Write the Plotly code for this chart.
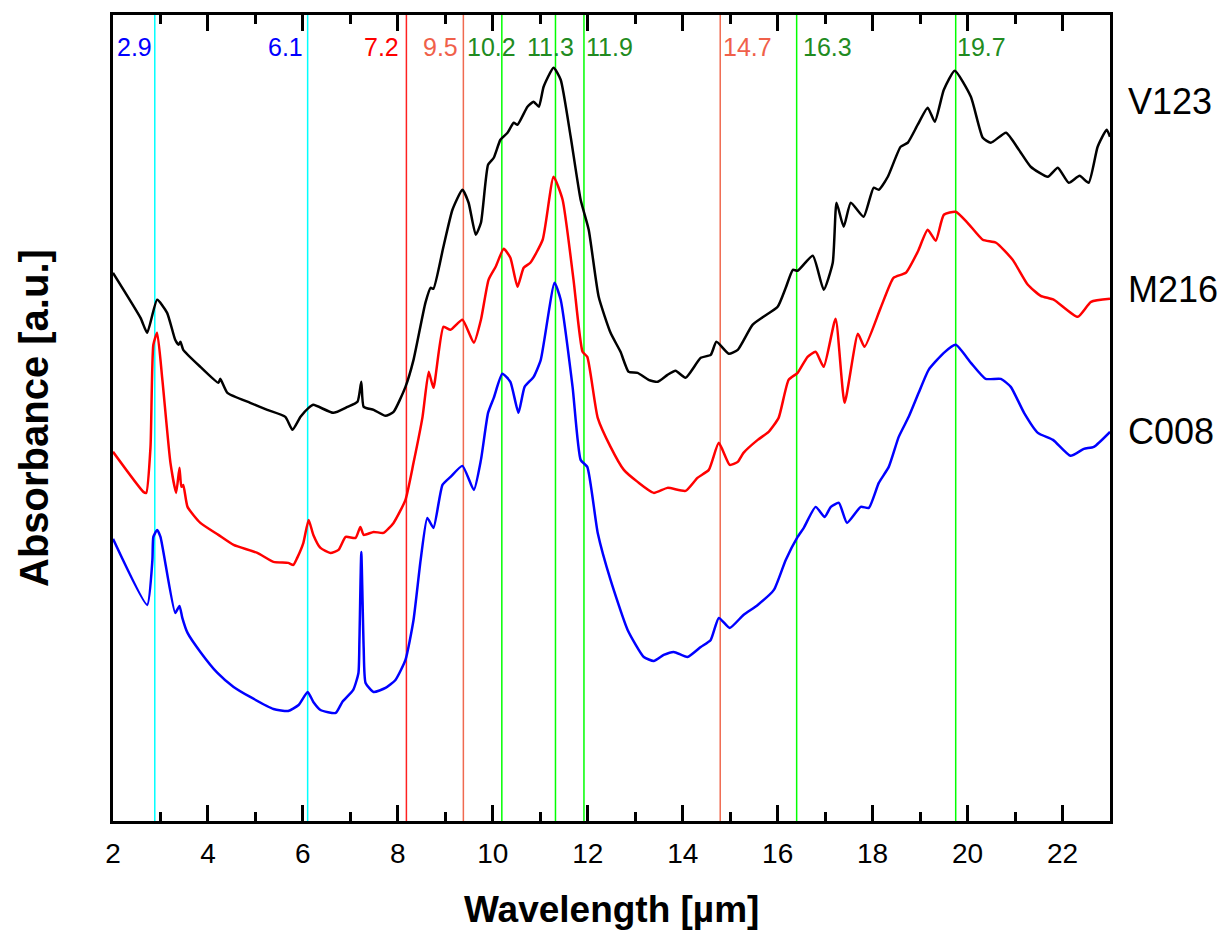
import plotly.graph_objects as go

# ---------------- data ----------------
v123_wl = [2.00, 2.58, 2.72, 2.93, 3.14, 3.31, 3.38, 3.42, 3.48, 3.84, 4.22, 4.26, 4.41, 4.89, 5.25, 5.63, 5.78,
           5.95, 6.12, 6.22, 6.64, 6.94, 7.15, 7.23, 7.28, 7.49, 7.74, 7.91, 8.16, 8.33, 8.58, 8.69, 8.75, 8.96,
           9.15, 9.36, 9.49, 9.64, 9.75, 9.90, 10.02, 10.16, 10.31, 10.44, 10.52, 10.73, 10.86, 10.97, 11.07,
           11.28, 11.43, 11.64, 11.85, 12.02, 12.23, 12.48, 12.69, 12.86, 13.05, 13.28, 13.47, 13.68, 13.85,
           14.06, 14.38, 14.59, 14.71, 14.97, 15.16, 15.47, 15.70, 16.00, 16.17, 16.32, 16.42, 16.74, 16.97,
           17.16, 17.24, 17.39, 17.54, 17.81, 18.02, 18.13, 18.32, 18.59, 18.74, 18.95, 19.16, 19.31, 19.50,
           19.73, 20.07, 20.32, 20.49, 20.81, 21.08, 21.33, 21.69, 21.90, 22.13, 22.36, 22.55, 22.74, 22.93, 23.00]
v123_abs = [5.48, 5.03, 4.88, 5.21, 5.08, 4.81, 4.76, 4.79, 4.71, 4.54, 4.38, 4.42, 4.28, 4.18, 4.11, 4.04, 3.91,
            4.04, 4.13, 4.16, 4.08, 4.14, 4.19, 4.39, 4.14, 4.11, 4.05, 4.09, 4.34, 4.61, 5.18, 5.33, 5.32, 5.74,
            6.11, 6.31, 6.18, 5.86, 5.98, 6.56, 6.63, 6.81, 6.88, 6.98, 6.96, 7.14, 7.19, 7.14, 7.34,
            7.53, 7.41, 6.84, 6.21, 5.91, 5.24, 4.88, 4.69, 4.49, 4.48, 4.41, 4.39, 4.46, 4.50,
            4.43, 4.63, 4.66, 4.79, 4.67, 4.71, 4.96, 5.04, 5.14, 5.33, 5.51, 5.50, 5.65, 5.31,
            5.58, 6.18, 5.94, 6.18, 6.04, 6.33, 6.31, 6.44, 6.74, 6.78, 6.96, 7.13, 6.99, 7.31,
            7.50, 7.24, 6.83, 6.78, 6.88, 6.71, 6.54, 6.44, 6.53, 6.38, 6.45, 6.38, 6.74, 6.91, 6.84]

m216_wl = [2.00, 2.64, 2.70, 2.79, 2.85, 2.93, 3.04, 3.21, 3.33, 3.40, 3.44, 3.48, 3.57, 3.84, 4.22, 4.54, 5.04,
           5.38, 5.69, 5.80, 5.88, 6.01, 6.12, 6.22, 6.37, 6.58, 6.75, 6.90, 7.11, 7.21, 7.28, 7.49, 7.70, 7.91,
           8.16, 8.33, 8.52, 8.65, 8.75, 8.96, 9.11, 9.36, 9.60, 9.75, 9.91, 10.06, 10.23, 10.37, 10.52, 10.65,
           10.79, 11.05, 11.28, 11.47, 11.70, 11.89, 11.99, 12.21, 12.48, 12.76, 13.05, 13.39, 13.68, 14.06,
           14.31, 14.55, 14.76, 14.99, 15.16, 15.28, 15.58, 15.81, 16.02, 16.23, 16.42, 16.63, 16.80, 16.97,
           17.22, 17.41, 17.69, 17.83, 18.17, 18.44, 18.70, 18.95, 19.16, 19.33, 19.50, 19.75, 20.00, 20.32,
           20.60, 20.95, 21.27, 21.54, 21.82, 22.32, 22.60, 23.00]
m216_abs = [3.69, 3.29, 3.28, 3.74, 4.76, 4.88, 4.41, 3.58, 3.28, 3.53, 3.34, 3.36, 3.14, 2.98, 2.86, 2.76, 2.68,
            2.59, 2.58, 2.56, 2.63, 2.78, 3.01, 2.86, 2.73, 2.68, 2.71, 2.84, 2.83, 2.94, 2.86, 2.89, 2.88, 2.98,
            3.21, 3.58, 4.04, 4.49, 4.33, 4.94, 4.91, 5.01, 4.78, 5.01, 5.41, 5.54, 5.72, 5.63, 5.34, 5.53,
            5.58, 5.81, 6.44, 6.21, 5.41, 4.69, 4.64, 4.03, 3.74, 3.51, 3.39, 3.28, 3.33, 3.30,
            3.43, 3.51, 3.78, 3.56, 3.59, 3.68, 3.81, 3.89, 4.03, 4.41, 4.48, 4.64, 4.69, 4.54,
            5.02, 4.18, 4.87, 4.74, 5.13, 5.43, 5.48, 5.69, 5.91, 5.80, 6.06, 6.09, 5.98, 5.81,
            5.78, 5.61, 5.36, 5.25, 5.21, 5.04, 5.19, 5.22]

c008_wl = [2.00, 2.72, 2.83, 2.85, 2.93, 3.00, 3.31, 3.40, 3.46, 3.57, 3.84, 4.20, 4.54, 4.89, 5.38, 5.69, 5.91,
           6.10, 6.22, 6.37, 6.69, 6.83, 7.06, 7.17, 7.19, 7.23, 7.28, 7.32, 7.49, 7.74, 7.95, 8.16, 8.33, 8.48,
           8.62, 8.75, 8.94, 9.11, 9.36, 9.60, 9.75, 9.90, 10.02, 10.20, 10.37, 10.54, 10.67, 10.86, 11.01,
           11.30, 11.43, 11.68, 11.85, 11.99, 12.21, 12.48, 12.84, 13.18, 13.39, 13.60, 13.81, 14.10, 14.38,
           14.59, 14.76, 14.99, 15.28, 15.58, 15.92, 16.17, 16.42, 16.55, 16.80, 16.99, 17.12, 17.29, 17.46,
           17.75, 17.92, 18.13, 18.34, 18.55, 18.76, 18.97, 19.18, 19.50, 19.75, 20.07, 20.38, 20.70, 20.91,
           21.19, 21.48, 21.80, 22.17, 22.45, 22.66, 23.00]
c008_abs = [2.82, 2.16, 2.61, 2.84, 2.91, 2.84, 2.08, 2.15, 2.03, 1.88, 1.69, 1.48, 1.34, 1.24, 1.12, 1.10, 1.16,
            1.29, 1.19, 1.11, 1.08, 1.19, 1.31, 1.48, 1.79, 2.69, 1.73, 1.38, 1.29, 1.33, 1.41, 1.61, 2.01, 2.61,
            3.03, 2.93, 3.36, 3.44, 3.55, 3.31, 3.61, 4.08, 4.23, 4.47, 4.39, 4.08, 4.34, 4.44, 4.61,
            5.38, 5.21, 4.34, 3.61, 3.54, 2.88, 2.41, 1.91, 1.64, 1.60, 1.66, 1.69, 1.64, 1.74,
            1.81, 2.03, 1.93, 2.06, 2.16, 2.31, 2.61, 2.84, 2.93, 3.14, 3.04, 3.14, 3.18, 2.98,
            3.14, 3.13, 3.38, 3.54, 3.84, 4.04, 4.28, 4.51, 4.68, 4.76, 4.58, 4.42, 4.42, 4.34,
            4.08, 3.88, 3.81, 3.65, 3.72, 3.74, 3.89]

series_names = ["V123", "M216", "C008"]
series_label_level = [7.19, 5.31, 3.89]

peak_positions = [2.88, 6.10, 8.18, 9.38, 10.19, 11.32, 11.92, 14.79, 16.40, 19.75]
peak_labels = ["2.9", "6.1", "7.2", "9.5", "10.2", "11.3", "11.9", "14.7", "16.3", "19.7"]

x_title = "<b>Wavelength [µm]</b>"
y_title = "<b>Absorbance [a.u.]</b>"

# ---------------- styles ----------------
series_colors = ["#000000", "#FF0000", "#0000FF"]
line_colors = ["#00FFFF", "#00FFFF", "#FF2020", "#F06A50", "#00FF00", "#00FF00", "#00FF00",
               "#F06A50", "#00FF00", "#00FF00"]
label_colors = ["#0000FF", "#0000FF", "#FF0000", "#F0604A", "#218B21", "#218B21", "#218B21",
                "#F0604A", "#218B21", "#218B21"]
label_anchor = ["right", "right", "right", "right", "center", "center", "left", "left", "left", "left"]
label_shift = [-1, -3, -5, -3, -10, -5, 0, 1, 4, -1]

FONT = "Liberation Sans, Arial, sans-serif"

fig = go.Figure()

for name, wl, ab, col in zip(series_names, [v123_wl, m216_wl, c008_wl],
                             [v123_abs, m216_abs, c008_abs], series_colors):
    fig.add_trace(go.Scatter(x=wl, y=ab, mode="lines", name=name,
                             line=dict(color=col, width=2.5, shape="spline", smoothing=0.5),
                             showlegend=False))

shapes = []
for pos, col in zip(peak_positions, line_colors):
    shapes.append(dict(type="line", xref="x", yref="paper", x0=pos, x1=pos, y0=0, y1=1,
                       opacity=1, line=dict(color=col, width=1.5), layer="below"))

annotations = []
for pos, txt, col, anc, sh in zip(peak_positions, peak_labels, label_colors, label_anchor, label_shift):
    annotations.append(dict(x=pos, y=7.74, xref="x", yref="y", text=txt, showarrow=False,
                            xanchor=anc, yanchor="middle", xshift=sh,
                            font=dict(family=FONT, size=25, color=col)))

for name, lvl in zip(series_names, series_label_level):
    annotations.append(dict(x=1.016, y=lvl, xref="paper", yref="y", text=name, showarrow=False,
                            xanchor="left", yanchor="middle",
                            font=dict(family=FONT, size=36, color="#000000")))

# axis titles
annotations.append(dict(x=0.5, y=0, xref="paper", yref="paper", text=x_title, showarrow=False,
                        xanchor="center", yanchor="middle", yshift=-88,
                        font=dict(family=FONT, size=37, color="black")))
annotations.append(dict(x=0, y=0.5, xref="paper", yref="paper", text=y_title, showarrow=False,
                        xanchor="center", yanchor="middle", xshift=-79, textangle=-90,
                        font=dict(family=FONT, size=40, color="black")))

fig.update_layout(
    template="simple_white",
    width=1228, height=931,
    margin=dict(l=113, r=118, t=15, b=110),
    paper_bgcolor="white", plot_bgcolor="white",
    shapes=shapes, annotations=annotations,
    font=dict(family=FONT, color="black"),
)
fig.update_xaxes(range=[2, 23], tickmode="linear", tick0=2, dtick=2,
                 ticks="inside", ticklen=16, tickwidth=2.5, tickcolor="black",
                 showline=True, linewidth=2.5, linecolor="black", mirror="ticks",
                 showgrid=False, zeroline=False, automargin=False,
                 ticklabelstandoff=6,
                 tickfont=dict(family=FONT, size=28, color="black"))
fig.update_xaxes(minor=dict(ticks="inside", ticklen=9, tickwidth=2.5, tickcolor="black", dtick=1))
fig.update_yaxes(range=[0, 8.057], showticklabels=False, ticks="",
                 showline=True, linewidth=2.5, linecolor="black", mirror=True,
                 showgrid=False, zeroline=False, automargin=False)

fig.write_html("out.html")
